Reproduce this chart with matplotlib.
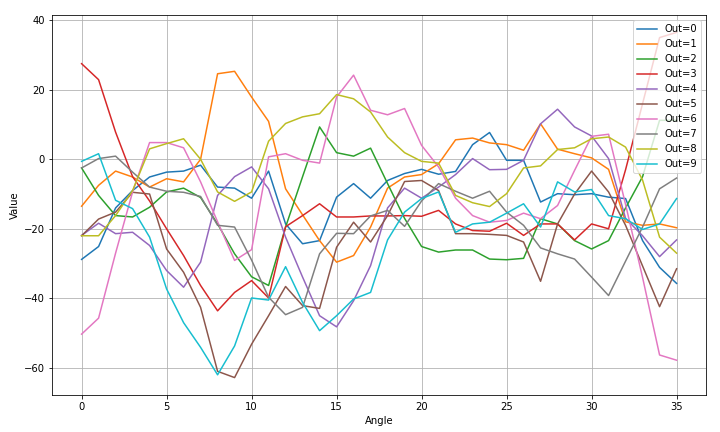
import numpy as np
import matplotlib
matplotlib.use("Agg")
import matplotlib.pyplot as plt

angles = np.arange(36)

out0 = [-28.8, -25.1, -14, -9, -5.1, -3.7, -3.4, -1.7, -8, -8.3, -11.2, -3.4,
        -18.6, -24.3, -23.4, -10.9, -7, -11.2, -6.1, -4.1, -2.9, -4.3, -3.5, 4.2,
        7.7, -0.3, -0.3, -12.3, -9.9, -10.2, -9.9, -10.9, -11.3, -23.4, -31.1, -35.7]
out1 = [-13.5, -7.5, -3.4, -5.1, -8, -5.6, -6.5, 0, 24.6, 25.3, 17.9, 10.9,
        -8.5, -16, -23.4, -29.6, -27.7, -19.5, -8.3, -5.1, -4.4, -1.3, 5.6, 6.1,
        4.7, 4.2, 2.6, 10.2, 2.9, 1.6, 0.4, -2.9, -18, -19, -18.6, -19.7]
out2 = [-2.5, -10.4, -16.2, -16.6, -13.8, -9.4, -8.3, -11, -18.6, -27.2, -33.8, -36.3,
        -19.5, -5, 9.3, 1.9, 0.9, 3.2, -7, -17, -25.1, -26.7, -26.1, -26.1,
        -28.7, -28.9, -28.5, -17.1, -18.6, -23.4, -25.8, -23.4, -14, -5, 11.2, 11.2]
out3 = [27.5, 22.9, 7.8, -5, -12, -20, -27.7, -36.3, -43.6, -38.3, -34.9, -39.9,
        -19.4, -16.2, -12.8, -16.6, -16.6, -16.3, -16.3, -16.2, -16.4, -14.7, -18.6, -20.5,
        -20.7, -18.4, -21.9, -18.6, -18.6, -23.2, -18.6, -20, -3, 16, 35, 36.5]
out4 = [-21.9, -18.4, -21.4, -21, -24.8, -32, -36.8, -29.6, -10.4, -5, -2.2, -8.5,
        -22.4, -33.9, -45, -48.2, -40.7, -30.6, -14, -8.3, -11.2, -8, -4.4, 0.2,
        -3, -2.9, -0.3, 10.2, 14.4, 9.3, 6.7, 0.2, -17, -22, -28, -23.2]
out5 = [-22, -17.2, -15.2, -9.5, -10, -25.8, -32.5, -42.6, -61, -62.8, -53.2, -45,
        -36.6, -42.1, -42.9, -25.3, -18.1, -23.8, -16.2, -6.4, -6.1, -9, -21.4, -21.4,
        -21.6, -21.9, -23.8, -35.1, -18.6, -10, -3.4, -9.4, -19, -30.7, -42.4, -31.5]
out6 = [-50.3, -45.7, -27, -9.4, 4.8, 4.8, 3.3, -6.5, -18, -29.1, -26, 0.7,
        1.6, -0.3, -1.1, 17.9, 24.2, 14.1, 12.8, 14.6, 4.0, -2.2, -11.2, -16.2,
        -18.1, -17.6, -15.5, -17.1, -13.3, -3.2, 6.6, 7.2, -13, -34, -56.3, -57.8]
out7 = [-2.5, 0.2, 0.9, -3.7, -8, -9.2, -9.5, -10.7, -19, -19.5, -29, -39.7,
        -44.7, -42.6, -27.2, -21.3, -21.4, -16.3, -14.7, -19.3, -12, -7, -9.2, -11.2,
        -9.2, -15.2, -19, -25.5, -27.2, -28.7, -33.9, -39.2, -29.3, -19.5, -8.5, -5.4]
out8 = [-22, -22, -16.2, -9, 3, 4.5, 5.9, 0, -9.4, -12.1, -9.4, 5.2,
        10.3, 12.2, 13.1, 18.6, 17.4, 13.6, 6.4, 1.9, -0.6, -1.1, -10.4, -12.5,
        -13.6, -9.9, -2.5, -1.9, 2.8, 3.3, 5.9, 6.4, 3.5, -6, -22.4, -27]
out9 = [-0.6, 1.6, -11.8, -14.2, -22.4, -37.3, -47, -54.1, -62, -53.7, -39.9, -40.5,
        -30.9, -41.2, -49.3, -45, -40.2, -38.3, -23.2, -15.2, -11.3, -9.4, -21, -18.6,
        -18.1, -15.5, -12.8, -19.5, -6.5, -9.4, -8.7, -16.2, -17.1, -20.2, -18.6, -11.3]

series = [out0, out1, out2, out3, out4, out5, out6, out7, out8, out9]
labels = ["Out=%d" % i for i in range(10)]

fig, ax = plt.subplots(figsize=(10, 6), dpi=72)
for vals, lab in zip(series, labels):
    ax.plot(angles, vals, label=lab)

ax.set_xlabel("Angle")
ax.set_ylabel("Value")
ax.grid(True)
ax.legend(loc="upper right")

fig.subplots_adjust(left=0.072, right=0.981, top=0.965, bottom=0.086)
fig.savefig("out.png")
